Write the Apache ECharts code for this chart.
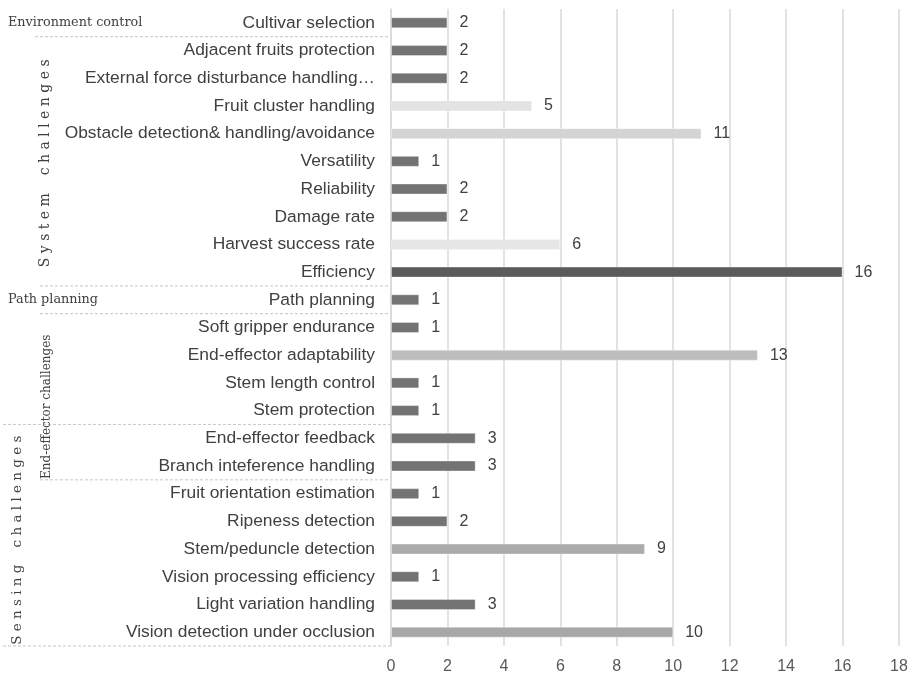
<!DOCTYPE html>
<html>
<head>
<meta charset="utf-8">
<script src="https://cdn.jsdelivr.net/npm/echarts@6/dist/echarts.min.js"></script>
<style>
  html, body { margin: 0; padding: 0; background: #ffffff; }
  #chart { width: 913px; height: 678px; }
</style>
</head>
<body>
<div id="chart"></div>
<script>
// Challenge categories, listed top to bottom
const categories = [
  'Cultivar selection',
  'Adjacent fruits protection',
  'External force disturbance handling…',
  'Fruit cluster handling',
  'Obstacle detection& handling/avoidance',
  'Versatility',
  'Reliability',
  'Damage rate',
  'Harvest success rate',
  'Efficiency',
  'Path planning',
  'Soft gripper endurance',
  'End-effector adaptability',
  'Stem length control',
  'Stem protection',
  'End-effector feedback',
  'Branch inteference handling',
  'Fruit orientation estimation',
  'Ripeness detection',
  'Stem/peduncle detection',
  'Vision processing efficiency',
  'Light variation handling',
  'Vision detection under occlusion'
];

// Number of studies per challenge
const counts = [2, 2, 2, 5, 11, 1, 2, 2, 6, 16, 1, 1, 13, 1, 1, 3, 3, 1, 2, 9, 1, 3, 10];

// Fill shade of each bar
const barShades = [
  '#737373', '#737373', '#737373', '#e3e3e3', '#d4d4d4', '#737373', '#737373', '#737373',
  '#e6e6e6', '#5b5b5b', '#737373', '#737373', '#bdbdbd', '#737373', '#737373', '#737373',
  '#737373', '#737373', '#737373', '#acacac', '#737373', '#737373', '#a8a8a8'
];

// Value axis ticks
const xMin = 0, xMax = 18, xStep = 2;

// Challenge groups: label, first and last category index
const groups = [
  { name: 'Environment control', from: 0, to: 0, vertical: false },
  { name: 'S y s t e m    c h a l l e n g e s', from: 1, to: 9, vertical: true },
  { name: 'Path planning', from: 10, to: 10, vertical: false },
  { name: 'End-effector challenges', from: 11, to: 16, vertical: true },
  { name: 'S e n s i n g    c h a l l e n g e s', from: 15, to: 22, vertical: true }
];

const chart = echarts.init(document.getElementById('chart'));

chart.setOption({
  backgroundColor: '#ffffff',
  animation: false,
  grid: { left: 391, right: 14, top: 9, bottom: 32, containLabel: false },
  xAxis: {
    type: 'value',
    min: xMin,
    max: xMax,
    interval: xStep,
    axisLine: { show: false },
    axisTick: { show: false },
    splitLine: { show: true, lineStyle: { color: '#d9d9d9', width: 1.5 } },
    axisLabel: { color: '#595959', fontSize: 16, fontFamily: 'Liberation Sans, Arial, sans-serif', margin: 13 }
  },
  yAxis: {
    type: 'category',
    inverse: true,
    data: categories,
    axisLine: { show: true, lineStyle: { color: '#d9d9d9', width: 1.5 } },
    axisTick: { show: false },
    axisLabel: { color: '#404040', fontSize: 17.4, fontFamily: 'Liberation Sans, Arial, sans-serif', margin: 16 }
  },
  series: [{
    type: 'bar',
    data: counts.map((v, i) => ({
      value: v,
      itemStyle: { color: barShades[i], borderColor: 'rgba(255,255,255,0.35)', borderWidth: 1 }
    })),
    barWidth: 11,
    label: {
      show: true,
      position: 'right',
      distance: 12,
      color: '#404040',
      fontSize: 16,
      fontFamily: 'Liberation Sans, Arial, sans-serif'
    }
  }]
});

// Group separators and group titles on the left side
const yc = i => chart.convertToPixel({ yAxisIndex: 0 }, categories[i]);
const step = yc(1) - yc(0);
const below = i => yc(i) + step / 2;
const above = i => yc(i) - step / 2;
const axisX = 390;

const separators = [
  { y: below(0), x0: 35 },
  { y: below(9), x0: 40 },
  { y: below(10), x0: 40 },
  { y: below(14), x0: 3 },
  { y: below(16), x0: 40 },
  { y: below(22), x0: 3 }
];

const graphics = separators.map(s => ({
  type: 'line',
  silent: true,
  shape: { x1: s.x0, y1: s.y, x2: axisX, y2: s.y },
  style: { stroke: '#c6c6c6', lineWidth: 1, lineDash: [3, 2] }
}));

const serif = 'DejaVu Serif, Liberation Serif, serif';
// Placement of the vertical group titles: x centre, shift of the y centre, font size
const verticalPlacement = {
  1: { x: 45, dy: 2, size: 14 },
  3: { x: 47, dy: 10, size: 12 },
  4: { x: 17, dy: 5, size: 13.5 }
};
groups.forEach((g, k) => {
  if (!g.vertical) {
    graphics.push({
      type: 'text',
      silent: true,
      x: 8,
      y: yc(g.from),
      style: { text: g.name, fill: '#404040', fontSize: 12.8, fontFamily: serif, align: 'left', verticalAlign: 'middle' }
    });
  } else {
    const p = verticalPlacement[k];
    const top = k === 4 ? below(14) : above(g.from);
    const bottom = below(g.to);
    graphics.push({
      type: 'text',
      silent: true,
      x: p.x,
      y: (top + bottom) / 2 + p.dy,
      rotation: Math.PI / 2,
      style: { text: g.name, fill: '#404040', fontSize: p.size, fontFamily: serif, align: 'center', verticalAlign: 'middle' }
    });
  }
});

chart.setOption({ graphic: graphics });
</script>
</body>
</html>
